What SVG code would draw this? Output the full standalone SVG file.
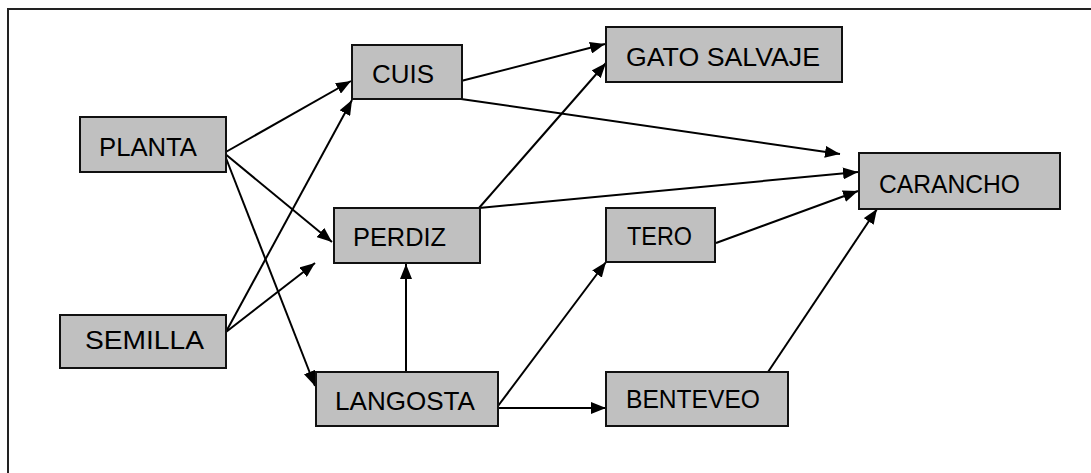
<svg xmlns="http://www.w3.org/2000/svg" width="1091" height="473" viewBox="0 0 1091 473">
<style>
.box{fill:#c0c0c0;stroke:#111;stroke-width:2}
.lbl{font-family:"Liberation Sans",Arial,sans-serif;font-size:25px;fill:#000}
.c{stroke:#000;stroke-width:2;fill:none;marker-end:url(#ah)}
.frame{stroke:#222;stroke-width:2;fill:none}
</style>
<defs>
<marker id="ah" viewBox="0 0 15 12" refX="15" refY="6" markerWidth="15" markerHeight="12" markerUnits="userSpaceOnUse" orient="auto">
<path d="M0,0 L15,6 L0,12 z" fill="#000"/>
</marker>
</defs>
<rect width="1091" height="473" fill="#fff"/>
<path class="frame" d="M8,473 L8,9 L1091,9"/>
<g id="connectors">
<line class="c" x1="224" y1="153" x2="351" y2="81"/>
<line class="c" x1="224" y1="153" x2="332" y2="242"/>
<line class="c" x1="224" y1="153" x2="315" y2="386"/>
<line class="c" x1="227" y1="330" x2="352" y2="100"/>
<line class="c" x1="226" y1="332" x2="315" y2="263"/>
<line class="c" x1="406" y1="372" x2="406" y2="264"/>
<line class="c" x1="461" y1="81" x2="605" y2="44"/>
<line class="c" x1="461" y1="99" x2="840" y2="154"/>
<line class="c" x1="479" y1="208" x2="606" y2="63"/>
<line class="c" x1="479" y1="208" x2="858" y2="172"/>
<line class="c" x1="716" y1="243" x2="858" y2="191"/>
<line class="c" x1="768" y1="372" x2="877" y2="209"/>
<line class="c" x1="498" y1="406" x2="606" y2="262"/>
<line class="c" x1="498" y1="408" x2="606" y2="408"/>
</g>
<g id="cuis"><rect class="box" x="352" y="45" width="110" height="54"/><text class="lbl" x="372" y="83" textLength="62" lengthAdjust="spacingAndGlyphs">CUIS</text></g>
<g id="planta"><rect class="box" x="80" y="117" width="146" height="55"/><text class="lbl" x="99" y="156" textLength="98" lengthAdjust="spacingAndGlyphs">PLANTA</text></g>
<g id="perdiz"><rect class="box" x="334" y="208" width="146" height="55"/><text class="lbl" x="353" y="246" textLength="93" lengthAdjust="spacingAndGlyphs">PERDIZ</text></g>
<g id="semilla"><rect class="box" x="60" y="315" width="166" height="53"/><text class="lbl" x="85" y="349" textLength="119" lengthAdjust="spacingAndGlyphs">SEMILLA</text></g>
<g id="langosta"><rect class="box" x="316" y="372" width="182" height="54"/><text class="lbl" x="335" y="410" textLength="140" lengthAdjust="spacingAndGlyphs">LANGOSTA</text></g>
<g id="gato-salvaje"><rect class="box" x="606" y="27" width="236" height="55"/><text class="lbl" x="626" y="66" textLength="194" lengthAdjust="spacingAndGlyphs">GATO SALVAJE</text></g>
<g id="carancho"><rect class="box" x="859" y="153" width="201" height="56"/><text class="lbl" x="879" y="193" textLength="141" lengthAdjust="spacingAndGlyphs">CARANCHO</text></g>
<g id="tero"><rect class="box" x="606" y="208" width="109" height="54"/><text class="lbl" x="627" y="245" textLength="65" lengthAdjust="spacingAndGlyphs">TERO</text></g>
<g id="benteveo"><rect class="box" x="606" y="372" width="182" height="54"/><text class="lbl" x="626" y="408" textLength="134" lengthAdjust="spacingAndGlyphs">BENTEVEO</text></g>
</svg>
